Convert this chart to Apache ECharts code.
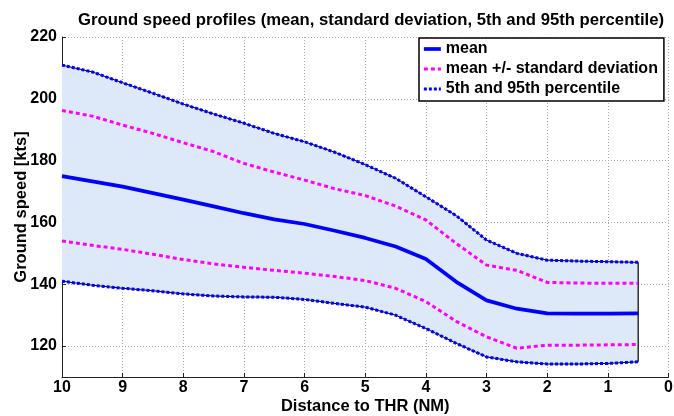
<!DOCTYPE html>
<html>
<head>
<meta charset="utf-8">
<script src="https://cdn.jsdelivr.net/npm/echarts@6/dist/echarts.min.js"></script>
<style>
html,body{margin:0;padding:0;background:#fff;}
#chart{width:674px;height:416px;}
</style>
</head>
<body>
<div id="chart"></div>
<script>
const distance = ['10', '9.5', '9', '8.5', '8', '7.5', '7', '6.5', '6', '5.5', '5', '4.5', '4', '3.5', '3', '2.5', '2', '1.5', '1', '0.5'];
const axisEnd = ['0'];
const p95 = [210.9, 208.7, 205.2, 201.8, 198.3, 195.1, 192.1, 188.8, 186.1, 182.7, 178.7, 174.3, 168.3, 162.2, 154.3, 150.0, 147.8, 147.5, 147.3, 147.1];
const plusStd = [196.2, 194.4, 191.5, 188.8, 185.8, 182.9, 179.1, 176.3, 173.7, 170.9, 168.7, 165.3, 160.8, 153.2, 146.2, 144.5, 140.6, 140.4, 140.3, 140.3];
const meanSpeed = [175.0, 173.3, 171.6, 169.5, 167.4, 165.2, 163.0, 161.0, 159.5, 157.3, 155.0, 152.2, 148.2, 140.8, 134.8, 132.1, 130.6, 130.5, 130.5, 130.6];
const minusStd = [154.0, 152.6, 151.3, 149.7, 148.0, 146.6, 145.5, 144.5, 143.6, 142.5, 141.2, 138.7, 134.4, 128.0, 123.0, 119.3, 120.3, 120.3, 120.4, 120.5];
const p5 = [141.0, 139.7, 138.7, 137.9, 136.9, 136.2, 135.9, 135.8, 135.1, 133.8, 132.6, 130.0, 125.7, 120.9, 116.5, 114.9, 114.2, 114.2, 114.4, 114.9];
const yTicks = [120, 140, 160, 180, 200, 220];

const FONT = "'Liberation Sans', Arial, sans-serif";
const categories = distance.concat(axisEnd);
const last = distance.length - 1;
const bandRange = p95.map((v, i) => +(v - p5[i]).toFixed(2));

const chart = echarts.init(document.getElementById('chart'), null, {renderer: 'canvas'});
const lineBase = {type: 'line', symbol: 'none', showSymbol: false, silent: true, animation: false};
const gridLine = {show: true, lineStyle: {type: [1, 2], color: '#a8a8a8', width: 1}};
const blueDash = {color: '#0000ff', width: 3, type: [3, 2]};
const pinkDash = {color: '#ff00ff', width: 3, type: [4, 3]};
const meanLine = {color: '#0000ff', width: 3.7};

chart.setOption({
  animation: false,
  backgroundColor: '#fff',
  title: {
    text: 'Ground speed profiles (mean, standard deviation, 5th and 95th percentile)',
    left: 366, textAlign: 'center', top: 7,
    textStyle: {fontFamily: FONT, fontWeight: 'bold', fontSize: 16.7, color: '#000'}
  },
  grid: {left: 62, right: 5.5, top: 37, bottom: 39, containLabel: false, outerBoundsMode: 'none'},
  legend: {
    data: [
      {name: 'mean', lineStyle: meanLine},
      {name: 'mean +/- standard deviation', lineStyle: pinkDash},
      {name: '5th and 95th percentile', lineStyle: blueDash}
    ],
    orient: 'vertical', left: 419, top: 38,
    backgroundColor: '#fff', borderColor: '#000', borderWidth: 1.5,
    padding: [3, 6, 4, 3], itemGap: 4, itemWidth: 17, itemHeight: 16,
    itemStyle: {opacity: 0},
    textStyle: {fontFamily: FONT, fontWeight: 'bold', fontSize: 16, color: '#000'}
  },
  xAxis: {
    type: 'category', data: categories, boundaryGap: false,
    name: 'Distance to THR (NM)', nameLocation: 'middle', nameGap: 21, nameMoveOverlap: false,
    nameTextStyle: {fontFamily: FONT, fontWeight: 'bold', fontSize: 16.5, color: '#000'},
    axisLine: {show: true, lineStyle: {color: '#222', width: 1}},
    axisTick: {show: true, inside: true, length: 4, interval: 1, alignWithLabel: true, lineStyle: {color: '#222'}},
    axisLabel: {fontFamily: FONT, fontWeight: 'bold', fontSize: 16, color: '#000', margin: 3, interval: 1},
    splitLine: Object.assign({interval: 1}, gridLine)
  },
  yAxis: {
    type: 'value', min: 110, max: 220, interval: 20,
    name: 'Ground speed [kts]', nameLocation: 'middle', nameGap: 32, nameMoveOverlap: false,
    nameTextStyle: {fontFamily: FONT, fontWeight: 'bold', fontSize: 16.5, color: '#000'},
    axisLine: {show: true, lineStyle: {color: '#222', width: 1}},
    axisTick: {show: true, inside: true, length: 4, lineStyle: {color: '#222'}, customValues: yTicks},
    axisLabel: {fontFamily: FONT, fontWeight: 'bold', fontSize: 16, color: '#000', margin: 5, customValues: yTicks},
    splitLine: gridLine
  },
  series: [
    Object.assign({}, lineBase, {
      name: 'band-low', data: p5, stack: 'band', z: 2,
      lineStyle: {opacity: 0}
    }),
    Object.assign({}, lineBase, {
      name: 'band-range', data: bandRange, stack: 'band', z: 2,
      lineStyle: {opacity: 0},
      areaStyle: {color: '#dde9f8', opacity: 1}
    }),
    Object.assign({}, lineBase, {
      name: 'edge-high', data: p95, z: 3,
      lineStyle: {color: '#000', width: 1}
    }),
    Object.assign({}, lineBase, {
      name: 'edge-low', data: p5, z: 3,
      lineStyle: {color: '#000', width: 1}
    }),
    Object.assign({}, lineBase, {
      name: 'edge-right', data: [[distance[last], p5[last]], [distance[last], p95[last]]], z: 3,
      lineStyle: {color: '#000', width: 1.2}
    }),
    Object.assign({}, lineBase, {
      name: '5th and 95th percentile', data: p95, z: 4,
      itemStyle: {color: '#0000ff'}, lineStyle: blueDash
    }),
    Object.assign({}, lineBase, {
      name: '5th and 95th percentile', data: p5, z: 4,
      itemStyle: {color: '#0000ff'}, lineStyle: blueDash
    }),
    Object.assign({}, lineBase, {
      name: 'mean +/- standard deviation', data: plusStd, z: 5,
      itemStyle: {color: '#ff00ff'}, lineStyle: pinkDash
    }),
    Object.assign({}, lineBase, {
      name: 'mean +/- standard deviation', data: minusStd, z: 5,
      itemStyle: {color: '#ff00ff'}, lineStyle: pinkDash
    }),
    Object.assign({}, lineBase, {
      name: 'mean', data: meanSpeed, z: 6,
      itemStyle: {color: '#0000ff'}, lineStyle: meanLine
    })
  ]
});
</script>
</body>
</html>
